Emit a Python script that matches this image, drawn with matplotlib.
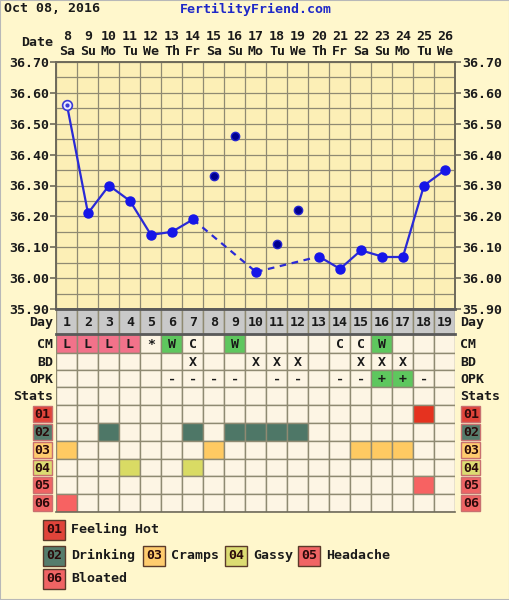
import matplotlib
matplotlib.use("Agg")
import matplotlib.pyplot as plt
import numpy as np
from matplotlib.patches import Rectangle

# ---------------------------------------------------------------- data
month_days = [8, 9, 10, 11, 12, 13, 14, 15, 16, 17, 18, 19, 20, 21, 22, 23, 24, 25, 26]
weekdays = ["Sa", "Su", "Mo", "Tu", "We", "Th", "Fr", "Sa", "Su", "Mo",
            "Tu", "We", "Th", "Fr", "Sa", "Su", "Mo", "Tu", "We"]
cycle_days = list(range(1, 20))
temps = [36.56, 36.21, 36.30, 36.25, 36.14, 36.15, 36.19, 36.33, 36.46, 36.02,
         36.11, 36.22, 36.07, 36.03, 36.09, 36.07, 36.07, 36.30, 36.35]
discarded_days = [8, 9, 11, 12]     # plotted but left off the line
open_days = [1]                     # hollow marker

cm = ["L", "L", "L", "L", "*", "W", "C", "", "W", "", "", "", "", "C", "C", "W", "", "", ""]
bd = ["", "", "", "", "", "", "X", "", "", "X", "X", "X", "", "", "X", "X", "X", "", ""]
opk = ["", "", "", "", "", "-", "-", "-", "-", "", "-", "-", "", "-", "-", "+", "+", "-", ""]

stat_codes = ["01", "02", "03", "04", "05", "06"]
stat_names = ["Feeling Hot", "Drinking", "Cramps", "Gassy", "Headache", "Bloated"]
feeling_hot_days = [18]
drinking_days = [3, 7, 9, 10, 11, 12]
cramps_days = [1, 8, 15, 16, 17]
gassy_days = [4, 7]
headache_days = [18]
bloated_days = [1]
stat_days = [feeling_hot_days, drinking_days, cramps_days, gassy_days, headache_days, bloated_days]

# ---------------------------------------------------------------- style
W, H = 510, 600
OUTER = "#FFF7CC"
PLOT_BG = "#FCEFB6"
CELL_BG = "#FDF5E4"
GRID = "#8F8A72"
EDGE = "#6E6A5A"
TXT = "#1A1A1A"
BLUE = "#2A2AD6"
stat_colors = ["#E5321F", "#4E7767", "#FFCA62", "#D9DB64", "#F76262", "#F76262"]
badge_colors = ["#E0443A", "#557C6C", "#FFCC6E", "#DCDC72", "#F06464", "#F06464"]
cm_colors = {"L": "#F2728A", "W": "#5EC75E"}
opk_colors = {"+": "#5EC75E"}
FS = 9.5

plt.rcParams["font.family"] = ["DejaVu Sans Mono"]
plt.rcParams["font.weight"] = "bold"


def fx(x):
    return x / W


def fy(y):
    return 1 - y / H


fig = plt.figure(figsize=(W / 100, H / 100), dpi=100, facecolor=OUTER)
fig.patches.append(Rectangle((0, 0), 1, 1, transform=fig.transFigure, fill=False,
                             edgecolor="#B8B8B8", lw=1.5))

fig.text(fx(4), fy(9), "Oct 08, 2016", fontsize=FS, color=TXT, va="center", ha="left")
fig.text(fx(256), fy(9), "FertilityFriend.com", fontsize=FS, color="#1E28C8",
         va="center", ha="center")
fig.text(fx(53), fy(43), "Date", fontsize=FS, color=TXT, va="center", ha="right")

# ---------------------------------------------------------------- temperature chart
left, right, top, bottom = 56.5, 455.5, 62, 309
ax = fig.add_axes([fx(left), fy(bottom), (right - left) / W, (bottom - top) / H])
ax.set_facecolor(PLOT_BG)
ax.set_xlim(0.5, 19.5)
ax.set_ylim(35.90, 36.70)

ax.set_xticks(cycle_days)
ax.set_xticklabels([f"{d}\n{w}" for d, w in zip(month_days, weekdays)],
                   fontsize=FS, color=TXT, linespacing=1.15)
ax.set_xticks(np.arange(0.5, 20, 1), minor=True)
ax.set_yticks(np.round(np.arange(35.90, 36.71, 0.10), 2))
ax.set_yticklabels([f"{v:.2f}" for v in np.arange(35.90, 36.71, 0.10)], fontsize=FS, color=TXT)
ax.set_yticks(np.round(np.arange(35.95, 36.70, 0.10), 2), minor=True)
ax.tick_params(axis="x", which="both", bottom=False, top=False, labelbottom=False,
               labeltop=True, length=0, pad=3)
ax.tick_params(axis="y", which="major", left=True, right=True, labelleft=True,
               labelright=True, length=4, width=1.2, color=EDGE, pad=1)
ax.tick_params(axis="y", which="minor", left=False, right=False)
ax.grid(True, which="minor", axis="x", color=GRID, lw=0.9)
ax.grid(True, which="both", axis="y", color=GRID, lw=0.9)
ax.set_axisbelow(True)
for s in ax.spines.values():
    s.set_color(EDGE)
    s.set_linewidth(1.4)

kept = [d for d in cycle_days if d not in discarded_days]
for a, b in zip(kept[:-1], kept[1:]):
    ls = "-" if b - a == 1 else (0, (3, 2.5))
    ax.plot([a, b], [temps[a - 1], temps[b - 1]], color=BLUE, lw=1.6, ls=ls, zorder=3)

solid = [d for d in kept if d not in open_days]
ax.plot(solid, [temps[d - 1] for d in solid], "o", ms=6.5, mfc="#1616E8", mec="#1616E8", zorder=4)
ax.plot(discarded_days, [temps[d - 1] for d in discarded_days], "o", ms=6,
        mfc="#00008E", mec="#2424D0", mew=1, zorder=4)
ax.plot(open_days, [temps[d - 1] for d in open_days], "o", ms=7, mfc="#ECECFF",
        mec="#3A3AD6", mew=1.2, zorder=4)
ax.plot(open_days, [temps[d - 1] for d in open_days], "o", ms=2, mfc="#3A3AD6",
        mec="#3A3AD6", zorder=5)

# ---------------------------------------------------------------- observation table
tbottom = 512
tax = fig.add_axes([fx(left), fy(tbottom), (right - left) / W, (tbottom - bottom) / H])
tax.set_xlim(0.5, 19.5)
tax.set_ylim(tbottom - bottom, 0)
tax.axis("off")

row_edges = [0, 25, 44, 61, 78, 96, 114, 132, 150, 167, 185, 203]
row_labels = ["Day", "CM", "BD", "OPK", "Stats"]


def cell(ax_, day, r, color, text=""):
    y0, y1 = row_edges[r], row_edges[r + 1]
    ax_.add_patch(Rectangle((day - 0.5, y0), 1, y1 - y0, facecolor=color,
                            edgecolor=GRID, lw=1.0))
    if text:
        ax_.text(day, (y0 + y1) / 2 + 0.5, text, ha="center", va="center",
                 fontsize=FS, color=TXT)


for i, d in enumerate(cycle_days):
    cell(tax, d, 0, "#C9C9C9", str(d))
    cell(tax, d, 1, cm_colors.get(cm[i], CELL_BG), cm[i])
    cell(tax, d, 2, CELL_BG, bd[i])
    cell(tax, d, 3, opk_colors.get(opk[i], CELL_BG), opk[i])
    cell(tax, d, 4, CELL_BG)
    for k, days in enumerate(stat_days):
        cell(tax, d, 5 + k, stat_colors[k] if d in days else CELL_BG)

for y in (0, 25):
    tax.plot([0.5, 19.5], [y, y], color="#5A5A5A", lw=2, clip_on=False, zorder=5)
tax.plot([0.5, 19.5], [203, 203], color=EDGE, lw=1.2, clip_on=False, zorder=5)

xl = 0.5 - 3.5 / 21
xr = 19.5 + 5 / 21
for r, lab in enumerate(row_labels):
    yc = (row_edges[r] + row_edges[r + 1]) / 2 + 0.5
    tax.text(xl, yc, lab, ha="right", va="center", fontsize=FS, color=TXT)
    tax.text(xr, yc, lab, ha="left", va="center", fontsize=FS, color=TXT)

bw = 19 / 21
for k, code in enumerate(stat_codes):
    y0, y1 = row_edges[5 + k] + 1, row_edges[6 + k] - 1
    for x0 in (0.5 - 23.5 / 21, 19.5 + 6 / 21):
        tax.add_patch(Rectangle((x0, y0), bw, y1 - y0, facecolor=badge_colors[k],
                                edgecolor="#C87070", lw=1.0, clip_on=False))
        tax.text(x0 + bw / 2, (y0 + y1) / 2 + 0.5, code, ha="center", va="center",
                 fontsize=FS, color="#2A0A0A", clip_on=False)

# ---------------------------------------------------------------- symptom legend
legend_rows = [[0], [1, 2, 3, 4], [5]]
legend_y = [529.5, 555.5, 578.5]
legend_x = [[43], [43, 143, 225, 298], [43]]
for row, yc, xs in zip(legend_rows, legend_y, legend_x):
    for k, x0 in zip(row, xs):
        fig.patches.append(Rectangle((fx(x0), fy(yc + 10)), 22 / W, 20 / H,
                                     transform=fig.transFigure, facecolor=badge_colors[k],
                                     edgecolor="#5A3A2A", lw=1.0))
        fig.text(fx(x0 + 11), fy(yc), stat_codes[k], ha="center", va="center",
                 fontsize=FS, color="#2A0A0A")
        fig.text(fx(x0 + 28), fy(yc), stat_names[k], ha="left", va="center",
                 fontsize=FS, color=TXT)

fig.savefig("out.png", dpi=100, facecolor=OUTER)
